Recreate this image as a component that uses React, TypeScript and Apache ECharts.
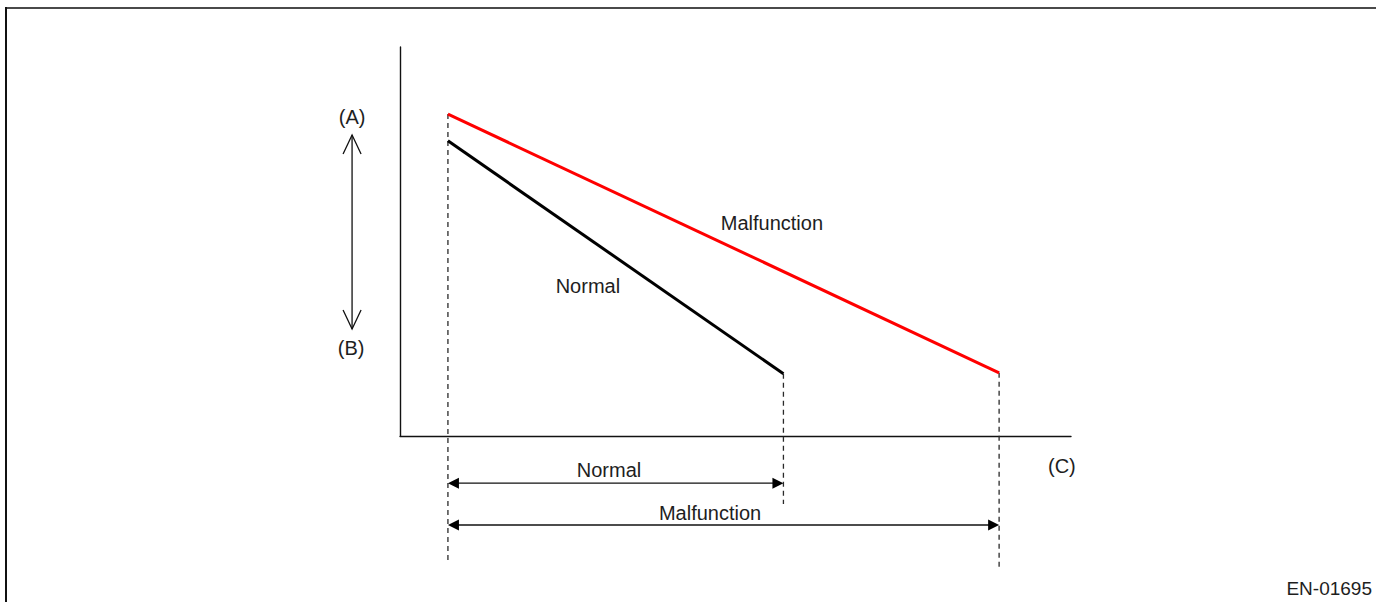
import React, { useEffect, useRef } from "react";
import * as echarts from "echarts";

// Axis extents (time on x, value on y)
const xExtent = [0, 14];
const yExtent = [0, 8];

// Main curves
const normalLine = [
  [1, 6.07],
  [8, 1.28],
];
const malfunctionLine = [
  [1, 6.62],
  [12.5, 1.3],
];

// Dashed guides
const guideStart = [
  [1, 6.62],
  [1, -2.59],
];
const guideNormal = [
  [8, 1.28],
  [8, -1.4],
];
const guideMalfunction = [
  [12.5, 1.3],
  [12.5, -2.69],
];

// Duration arrows: [fromX, toX, y]
const durationArrows = [
  [1, 8, -0.97],
  [1, 12.5, -1.83],
];

// Range arrow (A)-(B): [x, topY, bottomY]
const rangeArrow = [[-1, 6.19, 2.2]];

// Text labels
const labelTexts = ["Malfunction", "Normal", "Normal", "Malfunction", "(A)", "(B)", "(C)"];
const labelX = [7.76, 3.92, 4.36, 6.47, -1.0, -1.02, 13.81];
const labelY = [4.38, 3.08, -0.7, -1.58, 6.56, 1.81, -0.62];

const FONT = "'Liberation Sans', Arial, Helvetica, sans-serif";
const TEXT_COLOR = "#1e1e1e";

export default function App() {
  const ref = useRef<HTMLDivElement>(null);

  useEffect(() => {
    if (!ref.current) return;
    const chart = echarts.init(ref.current, null, { renderer: "svg" });

    const dashed = (data: number[][]) => ({
      type: "line",
      data,
      clip: false,
      symbol: "none",
      silent: true,
      lineStyle: { color: "#2a2a2a", width: 1.3, type: [5, 4] },
      z: 1,
    });

    const option: any = {
      animation: false,
      backgroundColor: "#ffffff",
      grid: { left: 400, top: 47, width: 671, height: 389 },
      xAxis: {
        type: "value",
        min: xExtent[0],
        max: xExtent[1],
        axisLine: { show: true, onZero: true, lineStyle: { color: "#111", width: 1.4 } },
        axisTick: { show: false },
        axisLabel: { show: false },
        splitLine: { show: false },
      },
      yAxis: {
        type: "value",
        min: yExtent[0],
        max: yExtent[1],
        axisLine: { show: true, onZero: false, lineStyle: { color: "#111", width: 1.4 } },
        axisTick: { show: false },
        axisLabel: { show: false },
        splitLine: { show: false },
      },
      series: [
        dashed(guideStart),
        dashed(guideNormal),
        dashed(guideMalfunction),
        {
          type: "line",
          name: "Normal",
          data: normalLine,
          clip: false,
          symbol: "none",
          lineStyle: { color: "#000000", width: 3 },
          z: 3,
        },
        {
          type: "line",
          name: "Malfunction",
          data: malfunctionLine,
          clip: false,
          symbol: "none",
          lineStyle: { color: "#ff0000", width: 3 },
          z: 3,
        },
        {
          type: "custom",
          data: durationArrows,
          clip: false,
          z: 4,
          renderItem: (params: any, api: any) => {
            const a = api.coord([api.value(0), api.value(2)]);
            const b = api.coord([api.value(1), api.value(2)]);
            const L = 11;
            const H = 5.5;
            return {
              type: "group",
              children: [
                {
                  type: "line",
                  shape: { x1: a[0] + L - 1, y1: a[1], x2: b[0] - L + 1, y2: b[1] },
                  style: { stroke: "#111", lineWidth: 1.4 },
                },
                {
                  type: "polygon",
                  shape: { points: [[a[0], a[1]], [a[0] + L, a[1] - H], [a[0] + L, a[1] + H]] },
                  style: { fill: "#000" },
                },
                {
                  type: "polygon",
                  shape: { points: [[b[0], b[1]], [b[0] - L, b[1] - H], [b[0] - L, b[1] + H]] },
                  style: { fill: "#000" },
                },
              ],
            };
          },
        },
        {
          type: "custom",
          data: rangeArrow,
          clip: false,
          z: 4,
          renderItem: (params: any, api: any) => {
            const t = api.coord([api.value(0), api.value(1)]);
            const b = api.coord([api.value(0), api.value(2)]);
            const W = 9;
            const L = 19;
            const st = { stroke: "#111", lineWidth: 1.3, fill: "none" };
            return {
              type: "group",
              children: [
                { type: "line", shape: { x1: t[0], y1: t[1], x2: b[0], y2: b[1] }, style: st },
                {
                  type: "polyline",
                  shape: { points: [[t[0] - W, t[1] + L], [t[0], t[1]], [t[0] + W, t[1] + L]] },
                  style: st,
                },
                {
                  type: "polyline",
                  shape: { points: [[b[0] - W, b[1] - L], [b[0], b[1]], [b[0] + W, b[1] - L]] },
                  style: st,
                },
              ],
            };
          },
        },
        {
          type: "custom",
          data: labelX.map((x, i) => [x, labelY[i]]),
          clip: false,
          z: 5,
          renderItem: (params: any, api: any) => {
            const p = api.coord([api.value(0), api.value(1)]);
            return {
              type: "text",
              x: p[0],
              y: p[1],
              style: {
                text: labelTexts[params.dataIndex],
                fill: TEXT_COLOR,
                fontSize: 20,
                fontFamily: FONT,
                align: "center",
                verticalAlign: "middle",
              },
            };
          },
        },
      ],
      graphic: [
        {
          type: "rect",
          shape: { x: 5, y: 7, width: 1371, height: 2 },
          style: { fill: "#4a4a4a" },
          silent: true,
        },
        {
          type: "rect",
          shape: { x: 5, y: 7, width: 2, height: 595 },
          style: { fill: "#111" },
          silent: true,
        },
        {
          type: "text",
          right: 4,
          top: 579,
          style: {
            text: "EN-01695",
            fill: TEXT_COLOR,
            fontSize: 19,
            fontFamily: FONT,
          },
        },
      ],
    };

    chart.setOption(option);
    return () => chart.dispose();
  }, []);

  return (
    <div
      ref={ref}
      style={{ position: "fixed", left: 0, top: 0, width: 1376, height: 602, background: "#fff" }}
    />
  );
}
